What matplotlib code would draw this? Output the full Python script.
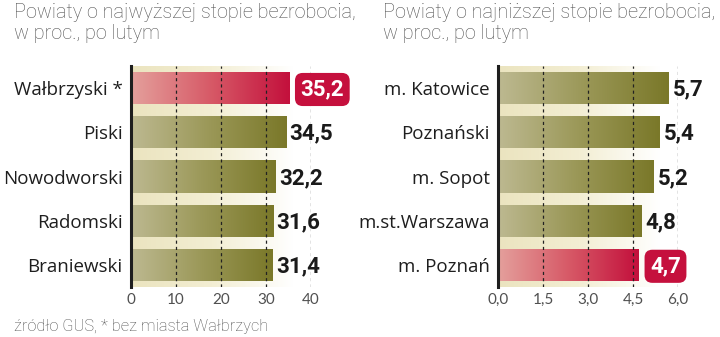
import numpy as np
import matplotlib.pyplot as plt
from matplotlib.colors import LinearSegmentedColormap

# najwyzsza stopa bezrobocia
high_names = ['Wałbrzyski *', 'Piski', 'Nowodworski', 'Radomski', 'Braniewski']
high_vals = [35.2, 34.5, 32.2, 31.6, 31.4]
high_ticks = [0, 10, 20, 30, 40]
high_ticklabels = ['0', '10', '20', '30', '40']

# najnizsza stopa bezrobocia
low_names = ['m. Katowice', 'Poznański', 'm. Sopot', 'm.st.Warszawa', 'm. Poznań']
low_vals = [5.7, 5.4, 5.2, 4.8, 4.7]
low_ticks = [0, 1.5, 3.0, 4.5, 6.0]
low_ticklabels = ['0,0', '1,5', '3,0', '4,5', '6,0']

high_mark = 0   # wyrozniony slupek
low_mark = 4

FONT = ['Roboto', 'DejaVu Sans']
GRAY = '#505050'
RED = '#c5103d'

olive = LinearSegmentedColormap.from_list('olive', ['#bdb991', '#9b9858', '#7a7829'])
red = LinearSegmentedColormap.from_list('red', ['#e4a09c', '#d75a67', '#c3103c'])
cream = LinearSegmentedColormap.from_list('cream', ['#ebe4bf', '#f3eed3', '#ffffff'])

W, H = 720, 337
fig = plt.figure(figsize=(W / 100, H / 100), dpi=100)


def panel(left, names, vals, ticks, ticklabels, mark, xmax, title):
    top, bottom = 66, 287
    ax = fig.add_axes([left / W, 1 - bottom / H, 180 / W, (bottom - top) / H])
    n = len(vals)
    ax.set_xlim(0, xmax)
    ax.set_ylim(n - 0.5, -0.5)

    # tlo: kremowy gradient do bieli
    grad = np.linspace(0, 1, 256).reshape(1, -1)
    ax.imshow(grad, cmap=cream, extent=[0, xmax * 0.9, n - 0.5, -0.5],
              aspect='auto', zorder=0)

    y = np.arange(n)
    bars = ax.barh(y, vals, height=0.73, color='none', zorder=2)
    for i, b in enumerate(bars):
        cm = red if i == mark else olive
        im = ax.imshow(grad, cmap=cm, extent=[0, vals[i], i + 0.365, i - 0.365],
                       aspect='auto', zorder=2)
        im.set_clip_path(b)

    for t in ticks[1:]:
        ax.axvline(t, color='#222222', lw=0.9, ls=(0, (2.5, 2.5)), zorder=3)

    for i, v in enumerate(vals):
        txt = f'{v:.1f}'.replace('.', ',')
        if i == mark:
            ax.annotate(txt, (v, i), xytext=(8, -1), textcoords='offset points',
                        va='center', ha='left', color='white', fontsize=16,
                        fontweight='bold', family=FONT, zorder=5,
                        annotation_clip=False,
                        bbox=dict(boxstyle='round,pad=0.25,rounding_size=0.35',
                                  fc=RED, ec='none'))
        else:
            ax.annotate(txt, (v, i), xytext=(2.5, -1), textcoords='offset points',
                        va='center', ha='left', color='#1a1a1a', fontsize=16,
                        fontweight='bold', family=FONT, zorder=5,
                        annotation_clip=False)

    ax.set_yticks(y)
    ax.set_yticklabels(names, fontsize=13.5, color='#1e1e1e', family=['Open Sans', 'DejaVu Sans'])
    ax.set_xticks(ticks)
    ax.set_xticklabels(ticklabels, fontsize=11, color=GRAY, family=['Lato', 'DejaVu Sans'])
    ax.tick_params(length=0, pad=4)
    ax.tick_params(axis='y', pad=6)
    for s in ['top', 'right', 'bottom']:
        ax.spines[s].set_visible(False)
    ax.spines['left'].set_color('#1e1e1e')
    ax.spines['left'].set_linewidth(2.2)
    ax.spines['left'].set_zorder(4)

    fig.text(title[0] / W, 1 - 3 / H, title[1], ha='left', va='top',
             fontsize=14.3, fontweight='light', color=GRAY, family=FONT,
             linespacing=1.15)
    return ax


panel(131, high_names, high_vals, high_ticks, high_ticklabels, high_mark, 40,
      (14, 'Powiaty o najwyższej stopie bezrobocia,\nw proc., po lutym'))
panel(498, low_names, low_vals, low_ticks, low_ticklabels, low_mark, 6.0,
      (383, 'Powiaty o najniższej stopie bezrobocia,\nw proc., po lutym'))

fig.text(14 / W, 1 - 327 / H, 'źródło GUS, * bez miasta Wałbrzych', ha='left',
         va='center', fontsize=11.8, fontweight='light', color=GRAY, family=FONT)

fig.savefig('out.png', dpi=100)
